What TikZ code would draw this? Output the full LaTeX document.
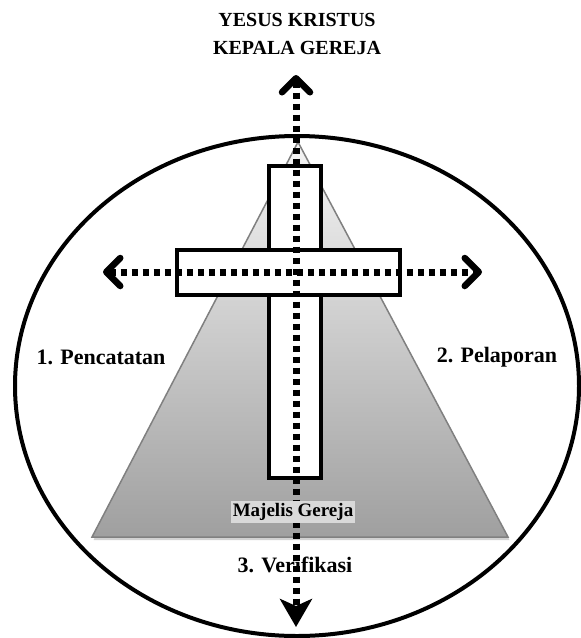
\documentclass[tikz,border=0pt]{standalone}
\usepackage{fontspec}
\setmainfont{Liberation Serif}
\usepackage{tikz}
\usetikzlibrary{arrows.meta, positioning, shapes.geometric}

\begin{document}
\begin{tikzpicture}[
    x=1pt, y=-1pt,
    every node/.style={align=center},
    frame/.style={draw, ellipse, line width=4pt, inner sep=0pt, minimum width=564pt, minimum height=500pt},
    bar/.style={draw, rectangle, fill=white, line width=4pt, inner sep=0pt},
    label/.style={font=\bfseries\fontsize{22}{26}\selectfont},
    dotline/.style={line width=7pt, dash pattern=on 6.5pt off 4.5pt},
    barb/.tip={Straight Barb[length=14pt, width=28pt, line width=6.5pt, round]},
    spike/.tip={Stealth[length=28pt, width=32pt, inset=7pt]}
]

\useasboundingbox (0,0) rectangle (581,638);

% Outer circle
\node[frame] (church) at (297,386) {};

% Pyramid
\coordinate (apex) at (298,142);
\coordinate (baseL) at (92,537);
\coordinate (baseR) at (508,537);
\fill[gray!35] ([shift={(1.5,3)}]apex) -- ([shift={(1.5,3)}]baseL) -- ([shift={(1.5,3)}]baseR) -- cycle;
\shade[top color=gray!8, bottom color=gray!75, draw=gray, line width=1.5pt] (apex) -- (baseL) -- (baseR) -- cycle;

% Cross
\node[bar, minimum width=52pt, minimum height=312pt] (vbar) at (295,322) {};
\node[bar, minimum width=223pt, minimum height=45pt] (hbar) at (288.5,272.5) {};

% Labels
\node[font=\bfseries\fontsize{20}{28}\selectfont] (head) at (297,34) {YESUS KRISTUS\\ KEPALA GEREJA};
\node[label] (record) at (101,357) {1. Pencatatan};
\node[label] (report) at (497,357) {2. Pelaporan};
\node[label] (verify) at (295,565) {3. Verifikasi};

% Dotted arrows
\coordinate (up) at (296,75);
\coordinate (down) at (296,627);
\coordinate (west) at (103,272);
\coordinate (east) at (482,272);
\draw[dotline, barb-spike] (up) -- (down);
\draw[dotline, barb-barb] (west) -- (east);

% Council
\node[fill=gray!30, inner sep=2pt, font=\bfseries\fontsize{19}{22}\selectfont] (council) at (293,512) {Majelis Gereja};
\end{tikzpicture}
\end{document}
